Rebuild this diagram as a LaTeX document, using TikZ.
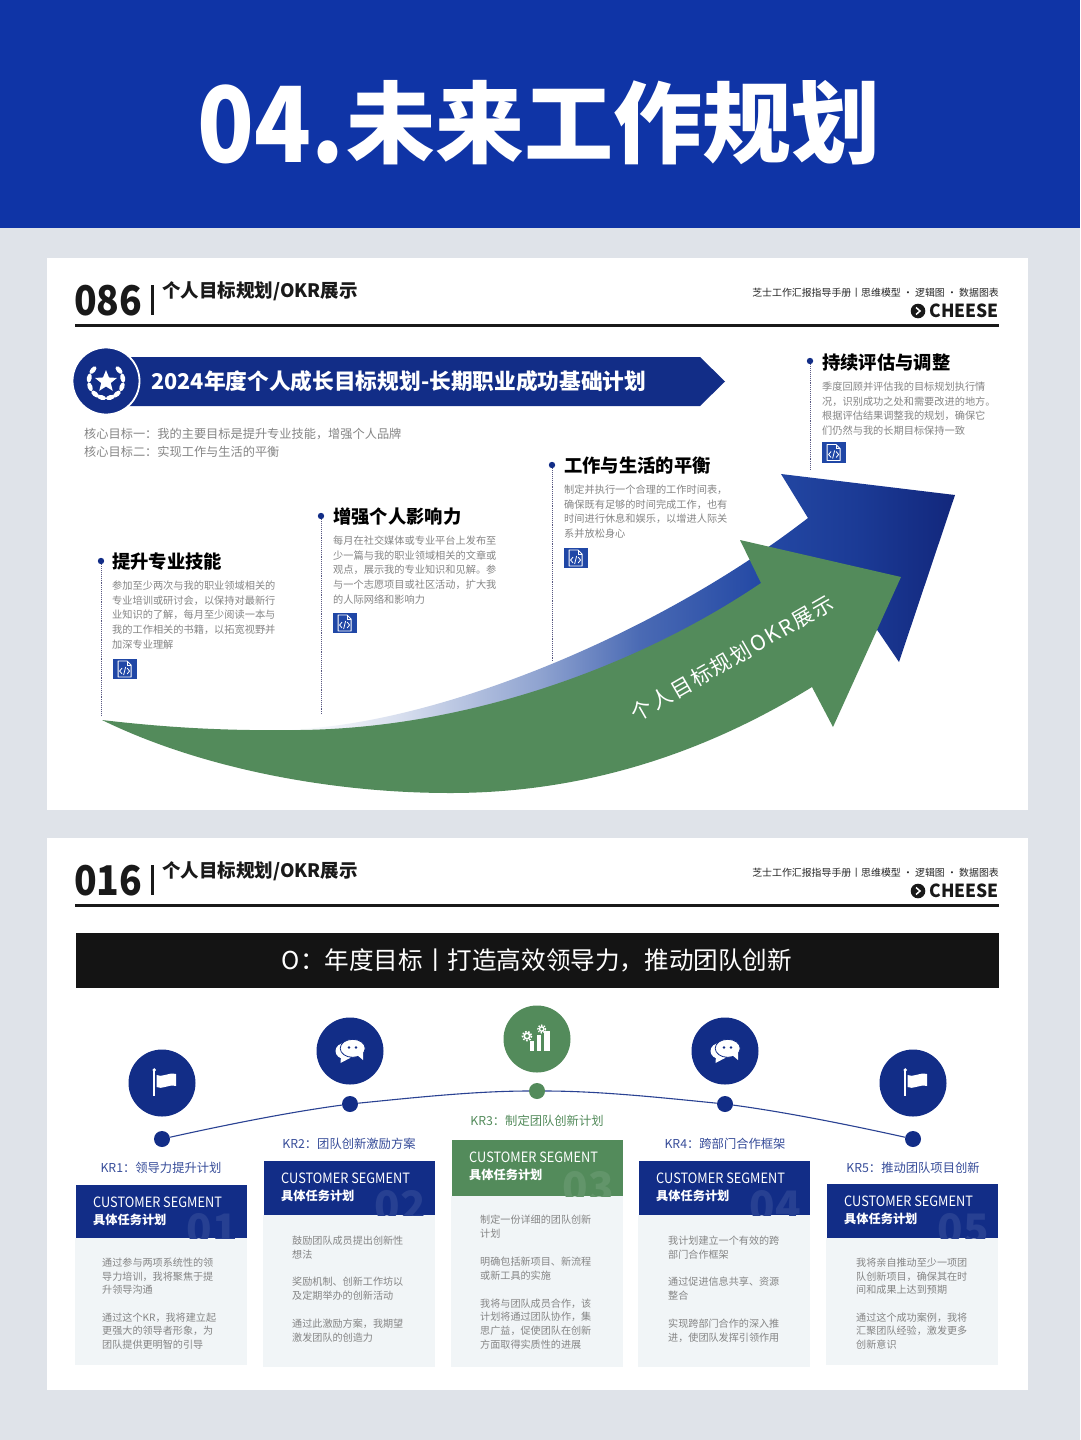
\documentclass[tikz,border=0pt]{standalone}
\usepackage{fontspec}
\usepackage{xcolor}
\usetikzlibrary{shapes.geometric}
\setmainfont{Noto Sans CJK SC}
\definecolor{navy}{HTML}{122D87}
\definecolor{okgreen}{HTML}{538B5B}
\definecolor{topblue}{HTML}{0F34A6}
\definecolor{pagegray}{HTML}{DFE3E9}
\definecolor{bodygray}{HTML}{858585}
\definecolor{cardtint}{HTML}{F1F5F7}
\definecolor{docblue}{HTML}{2047A6}
\definecolor{fadea}{HTML}{D7DEEE}
\definecolor{fadeb}{HTML}{8FA3D0}
\definecolor{fadec}{HTML}{4A6AB4}
\definecolor{faded}{HTML}{2449A5}
\definecolor{fadee}{HTML}{1B3A95}
\definecolor{fadef}{HTML}{12277C}
\pgfdeclarehorizontalshading{arrowfade}{100bp}{color(0bp)=(white); color(25bp)=(white); color(33.3bp)=(fadea); color(43.8bp)=(fadeb); color(51.3bp)=(fadec); color(60.3bp)=(faded); color(67.9bp)=(fadee); color(75bp)=(fadef); color(100bp)=(fadef)}
\newcommand{\fsz}[2]{\fontsize{#1}{#2}\selectfont}
\tikzset{
	pagetitle/.style = {font = \fsz{18.5}{22}\bfseries\color{black!90}, inner sep = 0, anchor = west},
	planhead/.style = {font = \fsz{18.3}{22}\bfseries\color{black}, inner sep = 0, anchor = west},
	plantext/.style = {font = \fsz{10.2}{14.7}\color{bodygray}, align = left, inner sep = 0, anchor = north west},
	cardtext/.style = {font = \fsz{10.1}{13.8}\color{bodygray}, align = left, inner sep = 0, anchor = north west},
	krlabel/.style = {font = \fsz{12.3}{15}, inner sep = 0},
	dotline/.style = {densely dotted, draw = black!45!blue!30!gray, line width = 0.9pt},
	flagicon/.pic = {
		\fill[white] (-7.7, -13) circle (1.9);
		\fill[white] (-8.7, -12) rectangle (-6.7, 13);
		\fill[white] (-5.5, -8) .. controls (0, -5) and (6, -11) .. (14, -9) -- (14, 3) .. controls (6, 1) and (0, 7) .. (-5.5, 4) -- cycle;
	},
	chaticon/.pic = {
		\fill[white] (-5, 0) ellipse (9.5 and 8);
		\fill[white] (-9, 5) -- (-9.5, 12) -- (0, 7) -- cycle;
		\filldraw[white, draw = navy, line width = 0.8pt] (2.7, -2.7) ellipse (12.5 and 9);
		\fill[white] (6, 3) -- (13, 9) -- (13, 0) -- cycle;
		\fill[navy] (-1, -3.5) circle (1.4) (6, -3.5) circle (1.4);
	},
	gearicon/.pic = {
		\fill[white] (-7, 2) rectangle (-3, 11.5);
		\fill[white] (-0.5, -4) rectangle (4, 11.5);
		\fill[white] (6.5, -8) rectangle (12.5, 11.5);
		\draw[white, line width = 1.6pt] (-10, -3) circle (2.8);
		\draw[white, line width = 1.6pt, dash pattern = on 1.6pt off 1.6pt] (-10, -3) circle (4.6);
		\draw[white, line width = 1.4pt] (4.7, -10) circle (2.2);
		\draw[white, line width = 1.4pt, dash pattern = on 1.4pt off 1.4pt] (4.7, -10) circle (3.8);
	},
	docicon/.pic = {
		\fill[docblue] (-12, -10.3) rectangle (12, 10.3);
		\draw[white, line width = 0.9pt, line join = round] (-6.5, -8) -- (2.5, -8) -- (6.5, -4) -- (6.5, 8) -- (-6.5, 8) -- cycle;
		\draw[white, line width = 0.7pt] (2.5, -8) -- (2.5, -4) -- (6.5, -4);
		\draw[white, line width = 0.8pt] (-2.5, -1) -- (-5, 2) -- (-2.5, 5) (2.5, -1) -- (5, 2) -- (2.5, 5) (1, -2) -- (-1, 6);
	},
}
\begin{document}
\begin{tikzpicture}[x = 1pt, y = -1pt]
	\useasboundingbox (0, 0) rectangle (1080, 1440);
	\fill[pagegray] (0, 0) rectangle (1080, 1440);
	\fill[topblue] (0, 0) rectangle (1080, 228);
	\node[white, inner sep = 0, anchor = base west] (bignum) at (197, 162) {\scalebox{0.89}[1]{\fsz{105}{110}\bfseries 04.}};
	\node[white, inner sep = 0, anchor = base west] (bigtitle) at (346, 156) {\fsz{89}{95}\bfseries 未来工作规划};
	\fill[white] (47, 258) rectangle (1028, 810);
	\fill[white] (47, 838) rectangle (1028, 1390);

	% page heads
	\foreach \ypage/\code in {0/086, 580/016} {
		\begin{scope}[shift = {(0, \ypage)}]
			\node[inner sep = 0, anchor = base west] (code\code) at (74, 315) {\scalebox{0.91}[1]{\fsz{41}{44}\bfseries\color{black!90}\code}};
			\fill[black!90] (151.2, 285) rectangle (154.2, 315);
			\node[pagetitle] (head\code) at (162, 291) {个人目标规划/OKR展示};
			\node[inner sep = 0, anchor = east] (hand\code) at (999, 293) {\fsz{9.9}{12}\color{black!85}芝士工作汇报指导手册丨思维模型 · 逻辑图 · 数据图表};
			\node[inner sep = 0, anchor = east] (brand\code) at (999, 311) {\scalebox{0.97}[1]{\fsz{18}{22}\bfseries\color{black!90}CHEESE}};
			\fill[black!90] (918, 311) circle (7.3);
			\draw[white, line width = 1.5pt] (916, 307.5) -- (920, 311) -- (916, 314.5);
			\fill[black!90] (75, 323.5) rectangle (999, 326.5);
		\end{scope}
	}

	% upper page banner
	\fill[navy] (125, 357) -- (700, 357) -- (725, 381.5) -- (700, 406) -- (125, 406) -- cycle;
	\node[white, inner sep = 0, anchor = west] (plantitle) at (151, 381) {\fsz{21.7}{25}\bfseries 2024年度个人成长目标规划-长期职业成功基础计划};
	\filldraw[navy, draw = white, line width = 1.8pt] (106, 381) circle (33.5);
	\node[star, star points = 5, star point ratio = 2.3, fill = white, minimum size = 23pt, inner sep = 0] (planstar) at (106, 381.5) {};
	\foreach \a in {-40, -10, 20, 50, 75, 105, 130, 160, 190, 220} {
		\fill[white, shift = {(106, 381)}, shift = {(\a:17)}, rotate = 90-\a] (0, 0) ellipse (4.6 and 2.4);
	}
	\node[inner sep = 0, anchor = west, align = left, font = \fsz{12.2}{18}\color{bodygray}] (goals) at (84, 443) {核心目标一：我的主要目标是提升专业技能，增强个人品牌\\核心目标二：实现工作与生活的平衡};

	% big arrows
	\shade[shading = arrowfade, shading angle = 0] (290, 729.5) .. controls (430, 725) and (650, 640) .. (808, 518) -- (781, 474) -- (955, 495) -- (899, 662) -- (850, 590) -- (700, 680) -- (400, 735) -- cycle;
	\fill[okgreen] (102, 720) .. controls (170, 728) and (230, 731) .. (300, 730) .. controls (470, 728) and (640, 665) .. (761, 583) -- (740, 540) -- (901, 577) -- (833, 727) -- (812, 687) .. controls (710, 750) and (590, 793) .. (450, 793) .. controls (330, 793) and (200, 768) .. (102, 720) -- cycle;
	\node[white, rotate = 30, inner sep = 0] (arrowtext) at (732, 658) {\fsz{21}{26}\addfontfeature{LetterSpace=9}个人目标规划OKR展示};

	% steps of the upper page
	\foreach \n/\sx/\sy/\ey/\iy/\ty in {1/101/561/716/669/578, 2/321/516/715/623/533, 3/552/465/661/558/482, 4/810/361/470/452.5/379} {
		\node[circle, fill = navy, inner sep = 0, minimum size = 6.4pt] (stepdot\n) at (\sx, \sy) {};
		\coordinate (stepend\n) at (\sx, \ey);
		\draw[dotline] (stepdot\n) -- (stepend\n);
		\pic at (\sx+23.6, \iy) {docicon};
	}
	\node[planhead] (stepa) at (112, 562) {提升专业技能};
	\node[planhead] (stepb) at (333, 517) {增强个人影响力};
	\node[planhead] (stepc) at (564, 466) {工作与生活的平衡};
	\node[planhead] (stepd) at (822, 363) {持续评估与调整};
	\node[plantext] (texta) at (112, 580.5) {参加至少两次与我的职业领域相关的\\专业培训或研讨会，以保持对最新行\\业知识的了解，每月至少阅读一本与\\我的工作相关的书籍，以拓宽视野并\\加深专业理解};
	\node[plantext] (textb) at (333, 535.5) {每月在社交媒体或专业平台上发布至\\少一篇与我的职业领域相关的文章或\\观点，展示我的专业知识和见解。参\\与一个志愿项目或社区活动，扩大我\\的人际网络和影响力};
	\node[plantext] (textc) at (564, 484.5) {制定并执行一个合理的工作时间表，\\确保既有足够的时间完成工作，也有\\时间进行休息和娱乐，以增进人际关\\系并放松身心};
	\node[plantext] (textd) at (822, 381.5) {季度回顾并评估我的目标规划执行情\\况，识别成功之处和需要改进的地方。\\根据评估结果调整我的规划，确保它\\们仍然与我的长期目标保持一致};

	% lower page
	\fill[black!92] (76, 933) rectangle (999, 988);
	\node[white, inner sep = 0] (okrtitle) at (537, 960.5) {\fsz{24.6}{28}O：年度目标丨打造高效领导力，推动团队创新};

	\foreach \n/\cx/\dy/\iy/\ly/\cardcol/\icon in {1/162/1139/1083/1168/navy/flagicon, 2/350/1104/1051/1144/navy/chaticon, 3/537/1091/1039/1121/okgreen/gearicon, 4/725/1104/1051/1144/navy/chaticon, 5/913/1139/1083/1168/navy/flagicon} {
		\node[circle, fill = \cardcol, inner sep = 0, minimum size = 16pt] (krdot\n) at (\cx, \dy) {};
		\node[circle, fill = \cardcol, inner sep = 0, minimum size = 67pt] (kricon\n) at (\cx, \iy) {};
		\pic at (\cx, \iy) {\icon};
	}
	\draw[navy!90!white, line width = 1.1pt] (krdot1) .. controls (225, 1125) and (290, 1112) .. (krdot2) .. controls (410, 1098) and (475, 1091) .. (krdot3) .. controls (600, 1091) and (665, 1098) .. (krdot4) .. controls (785, 1112) and (850, 1125) .. (krdot5);

	\node[krlabel, text = navy!85!white] (krname1) at (161, 1168) {KR1：领导力提升计划};
	\node[krlabel, text = navy!85!white] (krname2) at (349, 1144) {KR2：团队创新激励方案};
	\node[krlabel, text = okgreen] (krname3) at (537, 1121) {KR3：制定团队创新计划};
	\node[krlabel, text = navy!85!white] (krname4) at (725, 1144) {KR4：跨部门合作框架};
	\node[krlabel, text = navy!85!white] (krname5) at (913, 1168) {KR5：推动团队项目创新};

	\foreach \n/\xl/\yh/\ym/\yb/\cardcol in {1/76/1185/1238/1365/navy, 2/264/1161/1215/1367/navy, 3/452/1140/1196/1367/okgreen, 4/639/1161/1215/1367/navy, 5/827/1184/1238/1365/navy} {
		\fill[cardtint] (\xl-1, \ym) rectangle (\xl+171, \yb);
		\fill[\cardcol] (\xl, \yh) rectangle (\xl+171, \ym);
		\begin{scope}
			\clip (\xl, \yh) rectangle (\xl+171, \ym);
			\node[inner sep = 0, anchor = base east, text = \cardcol!91!white] (cardnum\n) at (\xl+162, \ym+6) {\fsz{42}{46}\bfseries 0\n};
		\end{scope}
		\node[white, inner sep = 0, anchor = west] (cardname\n) at (\xl+17, \yh+17.5) {\scalebox{0.9}[1]{\fsz{14.2}{16}CUSTOMER SEGMENT}};
		\node[white, inner sep = 0, anchor = west] (cardsub\n) at (\xl+17, \yh+34.5) {\fsz{12.2}{14}\bfseries 具体任务计划};
	}
	\node[cardtext] (carda) at (102, 1257.5) {通过参与两项系统性的领\\导力培训，我将聚焦于提\\升领导沟通\\[13.4pt]通过这个KR，我将建立起\\更强大的领导者形象，为\\团队提供更明智的引导};
	\node[cardtext] (cardb) at (292, 1235.5) {鼓励团队成员提出创新性\\想法\\[14pt]奖励机制、创新工作坊以\\及定期举办的创新活动\\[14pt]通过此激励方案，我期望\\激发团队的创造力};
	\node[cardtext] (cardc) at (480, 1214.5) {制定一份详细的团队创新\\计划\\[14.6pt]明确包括新项目、新流程\\或新工具的实施\\[14pt]我将与团队成员合作，该\\计划将通过团队协作，集\\思广益，促使团队在创新\\方面取得实质性的进展};
	\node[cardtext] (cardd) at (668, 1235.5) {我计划建立一个有效的跨\\部门合作框架\\[14pt]通过促进信息共享、资源\\整合\\[14pt]实现跨部门合作的深入推\\进，使团队发挥引领作用};
	\node[cardtext] (carde) at (856, 1257.5) {我将亲自推动至少一项团\\队创新项目，确保其在时\\间和成果上达到预期\\[13.4pt]通过这个成功案例，我将\\汇聚团队经验，激发更多\\创新意识};
\end{tikzpicture}
\end{document}
